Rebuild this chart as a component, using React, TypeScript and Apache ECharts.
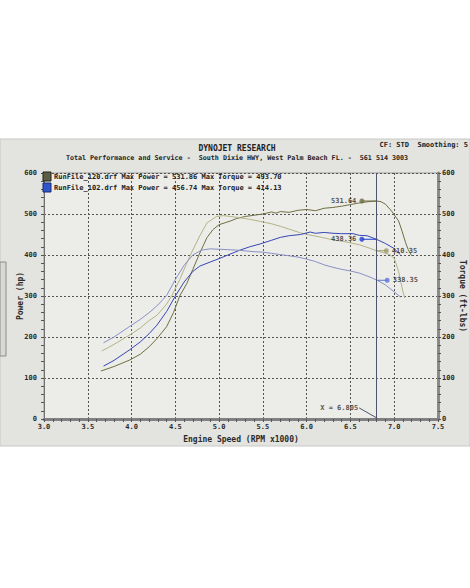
import React, { useEffect, useRef } from "react";
import * as echarts from "echarts";

// RunFile_120 power (hp)
const power120Rpm = [3.65, 3.8, 3.98, 4.1, 4.2, 4.29, 4.4, 4.48, 4.55, 4.63, 4.7, 4.78, 4.86, 4.93, 5.0, 5.13, 5.2, 5.3, 5.4, 5.5, 5.6, 5.65, 5.7, 5.8, 5.9, 6.0, 6.1, 6.2, 6.3, 6.4, 6.5, 6.6, 6.7, 6.8, 6.85, 6.9, 6.97, 7.05, 7.09, 7.13, 7.16, 7.2];
const power120Hp = [117, 128, 144, 158, 176, 196, 225, 260, 300, 330, 365, 405, 442, 462, 474, 483, 489, 494, 497, 500, 505, 502, 506, 504, 509, 511, 508, 514, 516, 519, 523, 527, 530, 531.6, 530, 524, 507, 483, 458, 430, 413, 398];

// RunFile_120 torque (ft-lbs)
const torque120Rpm = [3.66, 3.8, 3.98, 4.1, 4.2, 4.29, 4.4, 4.46, 4.55, 4.62, 4.67, 4.78, 4.86, 4.97, 5.05, 5.13, 5.24, 5.35, 5.47, 5.6, 5.7, 5.8, 5.93, 6.05, 6.15, 6.3, 6.45, 6.6, 6.7, 6.8, 6.9, 6.95, 7.0, 7.05, 7.1, 7.12];
const torque120Ft = [166, 182, 205, 222, 240, 253, 280, 301, 340, 375, 399, 447, 478, 494, 496, 494, 491, 487, 482, 476, 470, 463, 454, 448, 444, 437, 432, 425, 418, 410.4, 404, 401, 392, 360, 310, 295];

// RunFile_102 power (hp)
const power102Rpm = [3.68, 3.8, 3.98, 4.1, 4.2, 4.29, 4.4, 4.5, 4.6, 4.7, 4.78, 4.9, 5.01, 5.1, 5.24, 5.35, 5.47, 5.6, 5.7, 5.8, 5.93, 6.04, 6.1, 6.2, 6.3, 6.4, 6.53, 6.6, 6.69, 6.8, 6.9, 6.99, 7.07];
const power102Hp = [129, 143, 169, 188, 208, 229, 262, 300, 334, 360, 373, 383, 392, 400, 412, 420, 427, 436, 443, 447, 450, 456, 453, 455, 453, 452, 452, 448, 447, 438, 428, 417, 401];

// RunFile_102 torque (ft-lbs)
const torque102Rpm = [3.68, 3.8, 3.98, 4.1, 4.21, 4.3, 4.4, 4.5, 4.6, 4.7, 4.8, 4.9, 5.0, 5.1, 5.2, 5.3, 5.4, 5.5, 5.6, 5.7, 5.8, 5.9, 6.0, 6.1, 6.2, 6.3, 6.4, 6.5, 6.6, 6.7, 6.8, 6.9, 7.0, 7.07];
const torque102Ft = [186, 200, 226, 243, 261, 278, 301, 340, 375, 400, 412, 415, 414, 413, 412, 410, 408, 407, 404, 401, 398, 395, 390, 384, 376, 370, 365, 361, 356, 348, 339, 327, 310, 298];

// cursor readout
const cursorRpm = 6.805;
const markerRpm = [6.63, 6.63, 6.91, 6.92];
const markerValues = [531.64, 438.36, 410.35, 338.35];
const markerLabelSide = ["left", "left", "right", "right"];

const legendLines = [
  "RunFile_120.drf Max Power = 531.86 Max Torque = 493.70",
  "RunFile_102.drf Max Power = 456.74 Max Torque = 414.13",
];

const C_P120 = "#6f6f42";
const C_T120 = "#b3b386";
const C_P102 = "#3646b4";
const C_T102 = "#8a90c4";
const markerColors = [C_P120, "#2040d8", "#9a9a6a", "#5a78d8"];
const legendColors = ["#5c5f42", "#2f55c8"];

const FONT = "DejaVu Sans Mono";

export default function App() {
  const ref = useRef<HTMLDivElement>(null);
  useEffect(() => {
    const chart = echarts.init(ref.current!, null, { renderer: "svg" });
    const zip = (xs: number[], ys: number[]) => xs.map((x, i) => [x, ys[i]]);
    const lineSeries = (name: string, xs: number[], ys: number[], color: string, yAxisIndex: number) => ({
      name,
      type: "line",
      yAxisIndex,
      data: zip(xs, ys),
      showSymbol: false,
      symbol: "none",
      smooth: false,
      lineStyle: { color, width: 1 },
      z: 3,
    });
    const textStyle = { fontFamily: FONT, fontWeight: "bold", color: "#2a2a2a" };
    const gText = (x: number, y: number, text: string, size: number, align: string) => ({
      type: "text",
      z: 100,
      x,
      y,
      style: { text, fill: "#222", fontFamily: FONT, fontWeight: "bold", fontSize: size, align, verticalAlign: "middle" },
    });

    const option: any = {
      animation: false,
      backgroundColor: "#ffffff",
      graphic: [
        { type: "rect", z: -100, shape: { x: 0, y: 139, width: 470, height: 307 }, style: { fill: "#e3e3df", stroke: "#c8c8c4" }, silent: true },
        { type: "rect", z: -90, shape: { x: 0, y: 262, width: 6, height: 94 }, style: { fill: "#d8d8d4", stroke: "#8c8c88" }, silent: true },
        gText(237, 148, "DYNOJET RESEARCH", 8, "center"),
        gText(468, 145, "CF: STD  Smoothing: 5", 7, "right"),
        gText(237, 158, "Total Performance and Service -  South Dixie HWY, West Palm Beach FL. -  561 514 3003", 6.7, "center"),
        { type: "rect", z: 100, shape: { x: 43, y: 172, width: 8, height: 9 }, style: { fill: legendColors[0], stroke: "#222", lineWidth: 1 } },
        { type: "rect", z: 100, shape: { x: 43, y: 183, width: 8, height: 9 }, style: { fill: legendColors[1], stroke: "#1a2a70", lineWidth: 1 } },
        gText(54, 177, legendLines[0], 7, "left"),
        gText(54, 188, legendLines[1], 7, "left"),
      ],
      grid: {
        left: 44,
        right: 32,
        top: 173,
        bottom: 169,
        outerBoundsMode: "none",
        containLabel: false,
        show: true,
        backgroundColor: "#ecece9",
        borderColor: "#9a9a9a",
        borderWidth: 1,
      },
      xAxis: {
        type: "value",
        min: 3,
        max: 7.5,
        interval: 0.5,
        axisLine: { show: true, onZero: false, lineStyle: { color: "#808080", width: 3 } },
        axisTick: { show: true, length: 3, lineStyle: { color: "#555" } },
        minorTick: { show: true, splitNumber: 5, length: 3, lineStyle: { color: "#555" } },
        axisLabel: { formatter: (v: number) => v.toFixed(1), fontSize: 7, margin: 4, ...textStyle },
        splitLine: { show: true, lineStyle: { color: "#555", type: [2, 2], width: 1 } },
        name: "Engine Speed (RPM x1000)",
        nameLocation: "middle",
        nameGap: 16,
        nameMoveOverlap: false,
        nameTextStyle: { fontSize: 8, ...textStyle },
      },
      yAxis: [
        {
          type: "value",
          min: 0,
          max: 600,
          interval: 100,
          position: "left",
          axisLine: { show: true, lineStyle: { color: "#707070", width: 1 } },
          axisTick: { show: true, length: 3, lineStyle: { color: "#555" } },
          minorTick: { show: true, splitNumber: 5, length: 3, lineStyle: { color: "#555" } },
          axisLabel: { fontSize: 7, margin: 7, ...textStyle },
          splitLine: { show: true, lineStyle: { color: "#555", type: [2, 2], width: 1 } },
          name: "Power (hp)",
          nameLocation: "middle",
          nameGap: 20,
          nameMoveOverlap: false,
          nameTextStyle: { fontSize: 8, ...textStyle },
        },
        {
          type: "value",
          min: 0,
          max: 600,
          interval: 100,
          position: "right",
          axisLine: { show: true, lineStyle: { color: "#8a8a8a", width: 3 } },
          axisTick: { show: true, length: 3, lineStyle: { color: "#555" } },
          minorTick: { show: true, splitNumber: 5, length: 3, lineStyle: { color: "#555" } },
          axisLabel: { fontSize: 7, margin: 4, ...textStyle },
          splitLine: { show: false },
          name: "Torque (ft-lbs)",
          nameLocation: "middle",
          nameGap: 20,
          nameRotate: -90,
          nameMoveOverlap: false,
          nameTextStyle: { fontSize: 8, ...textStyle },
        },
      ],
      series: [
        {
          ...lineSeries("RunFile_120 Power", power120Rpm, power120Hp, C_P120, 0),
          markLine: {
            silent: true,
            symbol: "none",
            label: { show: false },
            lineStyle: { color: "#50546a", width: 1, type: "solid" },
            data: [{ xAxis: cursorRpm }],
          },
        },
        lineSeries("RunFile_120 Torque", torque120Rpm, torque120Ft, C_T120, 1),
        lineSeries("RunFile_102 Power", power102Rpm, power102Hp, C_P102, 0),
        lineSeries("RunFile_102 Torque", torque102Rpm, torque102Ft, C_T102, 1),
        // leader lines from cursor to readout dots
        ...markerRpm.map((r, i) => ({
          type: "line",
          yAxisIndex: 0,
          data: [[cursorRpm, markerValues[i]], [r, markerValues[i]]],
          showSymbol: false,
          symbol: "none",
          lineStyle: { color: markerColors[i], width: 1 },
          z: 4,
        })),
        {
          type: "scatter",
          yAxisIndex: 0,
          symbolSize: 5,
          z: 5,
          data: markerRpm.map((r, i) => ({
            value: [r, markerValues[i]],
            itemStyle: { color: markerColors[i] },
            label: {
              show: true,
              position: markerLabelSide[i],
              distance: 3,
              formatter: markerValues[i].toFixed(2),
              fontSize: 7,
              ...textStyle,
            },
          })),
        },
        // cursor readout text "X = 6.805"
        {
          type: "line",
          yAxisIndex: 0,
          data: [[6.6, 27], [cursorRpm, 2]],
          showSymbol: false,
          symbol: "none",
          lineStyle: { color: "#50546a", width: 1 },
          z: 4,
        },
        {
          type: "scatter",
          yAxisIndex: 0,
          symbolSize: 0,
          z: 5,
          data: [
            {
              value: [6.6, 27],
              label: { show: true, position: "left", distance: 1, formatter: "X = " + cursorRpm.toFixed(3), fontSize: 7, ...textStyle },
            },
          ],
        },
      ],
    };
    chart.setOption(option);
    return () => chart.dispose();
  }, []);
  return <div ref={ref} style={{ position: "fixed", left: 0, top: 0, width: 470, height: 588 }} />;
}
